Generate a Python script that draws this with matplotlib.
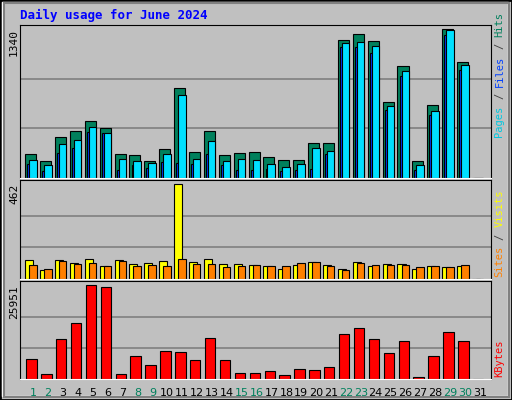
import matplotlib
matplotlib.use("Agg")
import matplotlib.pyplot as plt
from matplotlib.patches import Rectangle
import numpy as np

days = list(range(1, 32))
weekend = [1, 2, 8, 9, 15, 16, 22, 23, 29, 30]

hits = [212, 157, 369, 420, 511, 448, 212, 203, 157, 257, 811, 230, 420, 203, 221, 230,
        185, 166, 166, 312, 312, 1237, 1295, 1228, 684, 1010, 157, 656, 1340, 1047, 0]
files = [166, 121, 302, 339, 457, 402, 175, 157, 139, 212, 747, 175, 330, 157, 175, 166,
         130, 103, 130, 266, 239, 1210, 1219, 1183, 647, 965, 121, 602, 1328, 1019, 0]
pages = [130, 67, 221, 266, 411, 402, 76, 121, 94, 148, 139, 130, 212, 121, 76, 76,
         85, 67, 76, 85, 212, 1174, 1174, 1128, 611, 920, 76, 566, 1283, 974, 0]
visits = [91, 46, 91, 76, 96, 61, 91, 71, 76, 86, 462, 81, 96, 71, 71, 66,
          61, 51, 66, 81, 66, 51, 81, 61, 71, 71, 51, 61, 56, 61, 0]
sites = [66, 51, 86, 71, 76, 61, 86, 61, 66, 61, 96, 71, 71, 56, 61, 66,
         61, 61, 76, 81, 61, 46, 76, 66, 66, 66, 56, 61, 56, 66, 0]
kbytes = [5493, 1515, 11175, 15437, 25951, 25382, 1515, 6345, 3788, 7766, 7481, 5209,
          11460, 5209, 1799, 1799, 2084, 1231, 2652, 2368, 3220, 12596, 14017, 11175,
          7198, 10607, 663, 6345, 12880, 10607, 0]

W, H = 512, 400
fig = plt.figure(figsize=(W / 100, H / 100), dpi=100)
fig.patch.set_facecolor("#c0c0c0")
# bevel border
fig.patches.append(Rectangle((0, 0), 1, 1, transform=fig.transFigure, fill=False,
                             edgecolor="black", linewidth=2, zorder=-5))
fig.patches.append(Rectangle((2 / W, 4 / H), 1 - 6 / W, 1 - 6 / H, transform=fig.transFigure,
                             fill=False, edgecolor="white", linewidth=1, zorder=-5))
fig.patches.append(Rectangle((4 / W, 3 / H), 1 - 7 / W, 1 - 6 / H, transform=fig.transFigure,
                             fill=False, edgecolor="#808080", linewidth=1.5, zorder=-5))

x = np.array(days)
mono = "DejaVu Sans Mono"
FS = 7.5
CHAR_PX = 0.6 * FS * 100 / 72


def make_ax(top, bottom, ymax, vmax):
    ax = fig.add_axes([20 / W, 1 - bottom / H, 471 / W, (bottom - top) / H])
    ax.set_facecolor("#c0c0c0")
    ax.set_xlim(0.11, 31.74)
    ax.set_ylim(0, ymax)
    for g in (vmax / 3, 2 * vmax / 3):
        ax.axhline(g, color="#808080", linewidth=1.2, zorder=0)
    ax.set_xticks([])
    ax.set_yticks([])
    for s in ax.spines.values():
        s.set_color("black")
    ax.spines["bottom"].set_color("white")
    ax.text(-6 / 471, 1 - (ymax - vmax) / ymax, str(vmax), transform=ax.transAxes,
            rotation=90, ha="center", va="top", fontsize=8, family=mono)
    return ax


kw = dict(align="edge", edgecolor="black", linewidth=0.8)

ax1 = make_ax(25, 178, 1376, 1340)
ax1.bar(x - 0.54, hits, width=0.74, color="#00805c", **kw)
ax1.bar(x - 0.40, pages, width=0.13, color="#0040ff", **kw)
ax1.bar(x - 0.27, files, width=0.50, color="#00e0ff", **kw)

ax2 = make_ax(180, 279, 482, 462)
ax2.bar(x - 0.54, visits, width=0.54, color="#ffff00", **kw)
ax2.bar(x - 0.27, sites, width=0.50, color="#ff8000", **kw)

ax3 = make_ax(281, 379, 27130, 25951)
ax3.bar(x - 0.47, kbytes, width=0.70, color="#ff0000", **kw)

for d in days:
    ax3.text(d, -0.09, str(d), transform=ax3.get_xaxis_transform(), ha="center", va="top",
             fontsize=8, color="#00805c" if d in weekend else "black")

fig.text(20 / W, 1 - 15 / H, "Daily usage for June 2024", color="#0000ff", fontsize=9,
         family=mono, weight="bold", va="center")


def side_label(ax, parts, ypos):
    # stacked rotated words on the right side, bottom to top
    ax_h = ax.get_position().height * H
    y = ypos
    for word, col in parts:
        ax.text(1.018, y, word, transform=ax.transAxes, rotation=90, ha="center",
                va="bottom", fontsize=FS, family=mono, color=col)
        y += (len(word) + 1) * CHAR_PX / ax_h


side_label(ax1, [("Pages", "#00c8e0"), ("/", "#404040"), ("Files", "#0040ff"),
                 ("/", "#404040"), ("Hits", "#00805c")], 0.27)
side_label(ax2, [("Sites", "#ff8000"), ("/", "#404040"), ("Visits", "#ffff00")], 0.02)
side_label(ax3, [("KBytes", "#ff0000")], 0.02)

fig.savefig("out.png", dpi=100, facecolor=fig.get_facecolor())
